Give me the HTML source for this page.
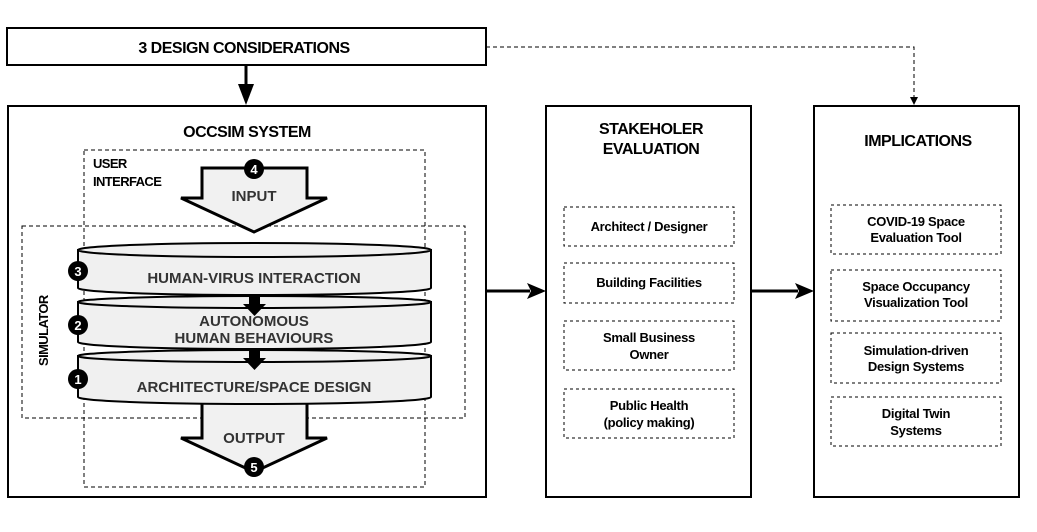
<!DOCTYPE html>
<html><head><meta charset="utf-8"><style>
html,body{margin:0;padding:0;background:#fff;}
svg{display:block;}
text{font-family:"Liberation Sans",sans-serif;font-weight:bold;}
</style></head><body>
<svg width="1037" height="532" viewBox="0 0 1037 532" xmlns="http://www.w3.org/2000/svg">
<rect width="1037" height="532" fill="#fff"/>
<!-- top box -->
<rect x="7" y="28" width="479" height="37" fill="#fff" stroke="#000" stroke-width="2"/>
<text x="244" y="53" font-size="16" text-anchor="middle" letter-spacing="-0.5">3 DESIGN CONSIDERATIONS</text>
<line x1="246" y1="65" x2="246" y2="88" stroke="#000" stroke-width="3"/>
<path d="M238,84 L254,84 L246,105 z" fill="#000"/>
<path d="M486,47 L914,47 L914,98" fill="none" stroke="#000" stroke-width="1" stroke-dasharray="4,3"/>
<path d="M910,97 L918,97 L914,105 z" fill="#000"/>
<!-- main boxes -->
<rect x="8" y="106" width="478" height="391" fill="#fff" stroke="#000" stroke-width="2"/>
<rect x="546" y="106" width="205" height="391" fill="#fff" stroke="#000" stroke-width="2"/>
<rect x="814" y="106" width="205" height="391" fill="#fff" stroke="#000" stroke-width="2"/>
<text x="247" y="137" font-size="16" text-anchor="middle" letter-spacing="-0.5">OCCSIM SYSTEM</text>
<text x="651" y="134" font-size="16" text-anchor="middle" letter-spacing="-0.5">STAKEHOLER</text>
<text x="651" y="154" font-size="16" text-anchor="middle" letter-spacing="-0.5">EVALUATION</text>
<text x="918" y="146" font-size="16" text-anchor="middle" letter-spacing="-0.5">IMPLICATIONS</text>
<!-- connectors -->
<line x1="486" y1="291" x2="530" y2="291" stroke="#000" stroke-width="3"/>
<path d="M527,283 L546,291 L527,299 L531,291 z" fill="#000"/>
<line x1="751" y1="291" x2="798" y2="291" stroke="#000" stroke-width="3"/>
<path d="M795,283 L814,291 L795,299 L799,291 z" fill="#000"/>
<!-- dashed regions -->
<rect x="84" y="150" width="341" height="337" fill="none" stroke="#000" stroke-width="1" stroke-dasharray="4,3"/>
<rect x="22" y="226" width="443" height="192" fill="none" stroke="#000" stroke-width="1" stroke-dasharray="4,3"/>
<text x="93" y="168" font-size="13" letter-spacing="-0.6">USER</text>
<text x="93" y="186" font-size="13" letter-spacing="-0.6">INTERFACE</text>
<text transform="translate(48,366) rotate(-90)" font-size="13" letter-spacing="-0.6">SIMULATOR</text>
<!-- input arrow -->
<path d="M202,168 L307,168 L307,198 L327,198 L254,232 L181,198 L202,198 z" fill="#f1f1f1" stroke="#000" stroke-width="3"/>
<text x="254" y="201" font-size="15" text-anchor="middle" fill="#333">INPUT</text>
<!-- output arrow -->
<path d="M202,400 L307,400 L307,438 L327,438 L254,472 L181,438 L202,438 z" fill="#f1f1f1" stroke="#000" stroke-width="3"/>
<!-- cylinders bottom first -->
<g stroke="#000" stroke-width="2" fill="#f0f0f0">
<path d="M78,356 L78,397 A176.5,7 0 0 0 431,397 L431,356 z"/>
<ellipse cx="254.5" cy="356" rx="176.5" ry="6"/>
<path d="M78,302 L78,342 A176.5,7 0 0 0 431,342 L431,302 z"/>
<ellipse cx="254.5" cy="302" rx="176.5" ry="6"/>
<path d="M78,250 L78,288 A176.5,7 0 0 0 431,288 L431,250 z"/>
<ellipse cx="254.5" cy="250" rx="176.5" ry="7"/>
</g>
<!-- small arrows -->
<rect x="249" y="296" width="11" height="8" fill="#000"/>
<path d="M243,304 L266,304 L254.5,316 z" fill="#000"/>
<rect x="249" y="350" width="11" height="8" fill="#000"/>
<path d="M243,358 L266,358 L254.5,370 z" fill="#000"/>
<g fill="#333" font-size="15" text-anchor="middle">
<text x="254" y="283">HUMAN-VIRUS INTERACTION</text>
<text x="254" y="326">AUTONOMOUS</text>
<text x="254" y="343">HUMAN BEHAVIOURS</text>
<text x="254" y="392">ARCHITECTURE/SPACE DESIGN</text>
<text x="254" y="443">OUTPUT</text>
</g>
<!-- number circles -->
<g font-size="13" text-anchor="middle" fill="#fff">
<circle cx="78" cy="271" r="10" fill="#000"/><text x="78" y="276">3</text>
<circle cx="78" cy="325" r="10" fill="#000"/><text x="78" y="330">2</text>
<circle cx="78" cy="379" r="10" fill="#000"/><text x="78" y="384">1</text>
<circle cx="254" cy="169" r="10" fill="#000"/><text x="254" y="174">4</text>
<circle cx="254" cy="467" r="10" fill="#000"/><text x="254" y="472">5</text>
</g>
<!-- boxes -->
<g fill="none" stroke="#000" stroke-width="1" stroke-dasharray="3,3">
<rect x="564" y="207" width="170" height="39"/>
<rect x="564" y="263" width="170" height="40"/>
<rect x="564" y="321" width="170" height="49"/>
<rect x="564" y="389" width="170" height="49"/>
<rect x="831" y="205" width="170" height="49"/>
<rect x="831" y="270" width="170" height="51"/>
<rect x="831" y="333" width="170" height="50"/>
<rect x="831" y="397" width="170" height="49"/>
</g>
<g font-size="13" text-anchor="middle" letter-spacing="-0.3">
<text x="649" y="231">Architect / Designer</text>
<text x="649" y="287">Building Facilities</text>
<text x="649" y="342">Small Business</text>
<text x="649" y="359">Owner</text>
<text x="649" y="410">Public Health</text>
<text x="649" y="427">(policy making)</text>
<text x="916" y="226">COVID-19 Space</text>
<text x="916" y="242">Evaluation Tool</text>
<text x="916" y="291">Space Occupancy</text>
<text x="916" y="307">Visualization Tool</text>
<text x="916" y="355">Simulation-driven</text>
<text x="916" y="371">Design Systems</text>
<text x="916" y="418">Digital Twin</text>
<text x="916" y="435">Systems</text>
</g>
</svg>
</body></html>
